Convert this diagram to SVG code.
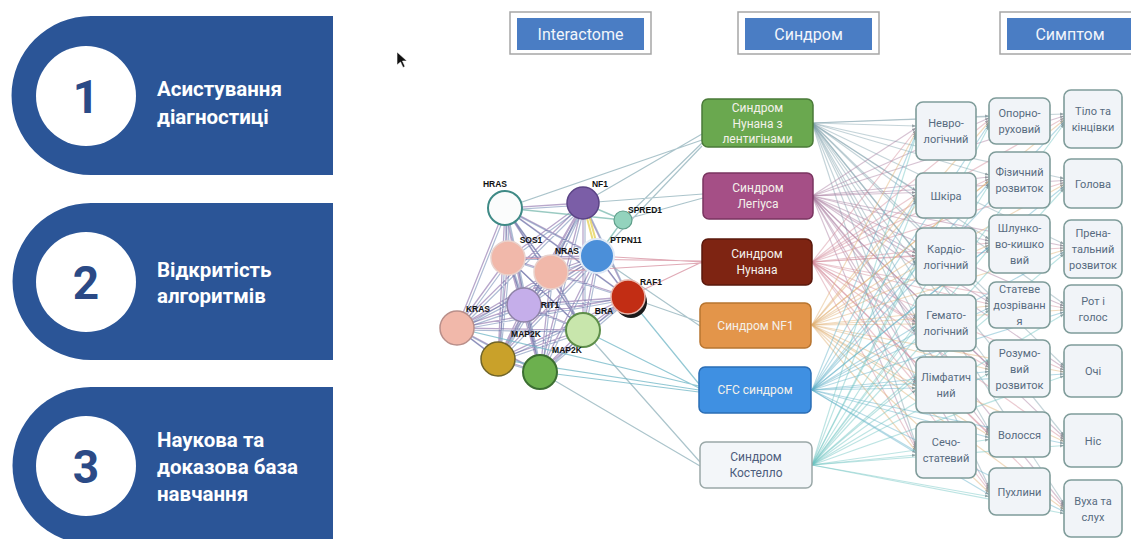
<svg xmlns="http://www.w3.org/2000/svg" xmlns:xlink="http://www.w3.org/1999/xlink" width="1131" height="539" viewBox="0 0 1131 539">
<style>
.panel{fill:#2b5597}
.pc{fill:#fff}
.pnum{font-family:Roboto,"Liberation Sans",sans-serif;font-weight:700;font-size:46px;fill:#2b4a86;text-anchor:middle}
.ptxt{font-family:Roboto,"Liberation Sans",sans-serif;font-weight:700;font-size:20.5px;fill:#fff}
.hout{fill:#fff;stroke:#a6a6a6;stroke-width:1.5}
.hin{fill:#4a7dc4}
.htxt{font-family:Roboto,"Liberation Sans",sans-serif;font-size:16px;fill:#f2f5fb;text-anchor:middle}
.syn{stroke-width:1.5}
.stxt{font-family:Roboto,"Liberation Sans",sans-serif;font-size:12px;fill:#f4f1ea;text-anchor:middle}
.sym{fill:#f1f4f8;stroke:#7f9c9a;stroke-width:1.6}
.ytxt{font-family:Roboto,"Liberation Sans",sans-serif;font-size:11px;fill:#576b80;text-anchor:middle}
.lbl{font-family:"Liberation Sans",Arial,sans-serif;font-weight:700;font-size:8.5px;fill:#111;text-anchor:middle}
.np{fill:none;stroke:#7d5ea0;stroke-opacity:.55;stroke-width:1.3}
.nb{fill:none;stroke:#4b6aa0;stroke-opacity:.45;stroke-width:1.2}
.ns{fill:none;stroke:#8fb0ba;stroke-opacity:.75;stroke-width:1.2}
.e{fill:none;stroke-width:1.2;stroke-opacity:.45;marker-end:url(#ah)}
.e1{stroke:#7f9faa}.e2{stroke:#a77a9e}.e3{stroke:#d28a98}.e4{stroke:#e0b070}.e5{stroke:#5fb0c8}.e6{stroke:#6cc4c0}
</style>
<defs>
<marker id="ah" viewBox="0 0 10 10" refX="10" refY="5" markerWidth="4" markerHeight="4" markerUnits="userSpaceOnUse" orient="auto"><path d="M0,1L10,5L0,9z" fill="#4d5f66" fill-opacity=".5"/></marker>
<path id="net" d="M505 208L583 203M505 208L597 256M505 208L508 258M505 208L551 272M505 208L628 297M505 208L524 305M505 208L583 330M505 208L457 328M505 208L498 359M505 208L540 372M583 203L508 258M583 203L551 272M583 203L628 297M583 203L524 305M583 203L583 330M583 203L457 328M583 203L498 359M583 203L540 372M597 256L508 258M597 256L551 272M597 256L628 297M597 256L524 305M597 256L583 330M597 256L457 328M597 256L498 359M597 256L540 372M508 258L551 272M508 258L628 297M508 258L524 305M508 258L583 330M508 258L457 328M508 258L498 359M508 258L540 372M551 272L628 297M551 272L524 305M551 272L583 330M551 272L457 328M551 272L498 359M551 272L540 372M628 297L524 305M628 297L583 330M628 297L457 328M628 297L498 359M628 297L540 372M524 305L583 330M524 305L457 328M524 305L498 359M524 305L540 372M583 330L457 328M583 330L498 359M583 330L540 372M457 328L498 359M457 328L540 372M498 359L540 372"/>
</defs>
<rect width="1131" height="539" fill="#fff"/>

<g id="panel1">
<path class="panel" d="M333 16H91A79.5 79.5 0 0 0 91 175H333Z"/>
<circle class="pc" cx="86" cy="96" r="50"/>
<text class="pnum" x="86" y="113">1</text>
<text class="ptxt" x="157" y="96">Асистування</text>
<text class="ptxt" x="157" y="124">діагностиці</text>
</g>
<g id="panel2">
<path class="panel" d="M333 203H91A78.5 78.5 0 0 0 91 360H333Z"/>
<circle class="pc" cx="86" cy="282" r="50"/>
<text class="pnum" x="86" y="299">2</text>
<text class="ptxt" x="157" y="277">Відкритість</text>
<text class="ptxt" x="157" y="303">алгоритмів</text>
</g>
<g id="panel3">
<path class="panel" d="M333 387H91A78.5 78.5 0 0 0 91 544H333Z"/>
<circle class="pc" cx="86" cy="466" r="50"/>
<text class="pnum" x="86" y="483">3</text>
<text class="ptxt" x="157" y="447">Наукова та</text>
<text class="ptxt" x="157" y="474">доказова база</text>
<text class="ptxt" x="157" y="501">навчання</text>
</g>

<g id="cursor"><path d="M397 52V65L400.5 62L403 67.5L405 66.5L402.5 61H407Z" fill="#111" stroke="#fff" stroke-width=".6"/></g>

<g id="header-interactome"><rect class="hout" x="510" y="12" width="141" height="42"/><rect class="hin" x="517" y="18" width="127" height="32"/><text class="htxt" x="580.5" y="40">Interactome</text></g>
<g id="header-syndrome"><rect class="hout" x="738" y="12" width="141" height="42"/><rect class="hin" x="745" y="18" width="127" height="32"/><text class="htxt" x="808.5" y="40">Синдром</text></g>
<g id="header-symptom"><rect class="hout" x="1000" y="12" width="141" height="42"/><rect class="hin" x="1007" y="18" width="127" height="32"/><text class="htxt" x="1070" y="40">Симптом</text></g>

<g id="connectors">
<use xlink:href="#net" class="np"/>
<use xlink:href="#net" class="nb" transform="translate(2,2)"/>
<path d="M583 203L597 256M586 204L600 256" fill="none" stroke="#e6d35a" stroke-width="2" stroke-opacity=".8"/>
<path d="M583 203L623 220M597 256L623 220M505 208L623 220" fill="none" stroke="#6fb3a8" stroke-width="1.4" stroke-opacity=".7"/>
<path class="ns" d="M505 208L702 140M583 203L702 134M623 220L702 143M597 256L702 146M623 220L703 198M583 203L703 194M628 297L700 322M597 256L700 326M583 330L700 462M540 372L700 466"/>
<path class="ns" style="stroke:#d58e9e" d="M597 256L702 262M628 297L702 262M551 272L702 263M508 258L702 261"/>
<path class="ns" style="stroke:#6fb5c5" d="M583 330L699 388M498 359L699 390M540 372L699 392M457 328L699 386M628 297L699 384"/>

<path class="e e1" d="M812 123L916 126"/><path class="e e1" d="M812 123L916 190.5"/><path class="e e1" d="M812 123L916 251.5"/><path class="e e1" d="M812 123L916 318"/><path class="e e1" d="M812 123L916 380"/><path class="e e1" d="M812 123L916 445"/>
<path class="e e1" d="M812 123L989 116"/><path class="e e1" d="M812 123L989 175"/><path class="e e1" d="M812 123L989 239"/><path class="e e1" d="M812 123L989 300"/><path class="e e1" d="M812 123L989 363.5"/><path class="e e1" d="M812 123L989 429.5"/><path class="e e1" d="M812 123L989 486.5"/>
<path class="e e1" d="M812 123L1064 114"/><path class="e e1" d="M812 123L1064 178.5"/><path class="e e1" d="M812 123L1064 244"/><path class="e e1" d="M812 123L1064 304"/><path class="e e1" d="M812 123L1064 366"/><path class="e e1" d="M812 123L1064 435.5"/><path class="e e1" d="M812 123L1064 503.5"/>

<path class="e e2" d="M812 196L916 128"/><path class="e e2" d="M812 196L916 192.5"/><path class="e e2" d="M812 196L916 253.5"/><path class="e e2" d="M812 196L916 320"/><path class="e e2" d="M812 196L916 382"/><path class="e e2" d="M812 196L916 447"/>
<path class="e e2" d="M812 196L989 118"/><path class="e e2" d="M812 196L989 177"/><path class="e e2" d="M812 196L989 241"/><path class="e e2" d="M812 196L989 302"/><path class="e e2" d="M812 196L989 365.5"/><path class="e e2" d="M812 196L989 431.5"/><path class="e e2" d="M812 196L989 488.5"/>
<path class="e e2" d="M812 196L1064 116"/><path class="e e2" d="M812 196L1064 180.5"/><path class="e e2" d="M812 196L1064 246"/><path class="e e2" d="M812 196L1064 306"/><path class="e e2" d="M812 196L1064 368"/><path class="e e2" d="M812 196L1064 437.5"/><path class="e e2" d="M812 196L1064 505.5"/>

<path class="e e3" d="M812 262L916 130"/><path class="e e3" d="M812 262L916 194.5"/><path class="e e3" d="M812 262L916 255.5"/><path class="e e3" d="M812 262L916 322"/><path class="e e3" d="M812 262L916 384"/><path class="e e3" d="M812 262L916 449"/>
<path class="e e3" d="M812 262L989 120"/><path class="e e3" d="M812 262L989 179"/><path class="e e3" d="M812 262L989 243"/><path class="e e3" d="M812 262L989 304"/><path class="e e3" d="M812 262L989 367.5"/><path class="e e3" d="M812 262L989 433.5"/><path class="e e3" d="M812 262L989 490.5"/>
<path class="e e3" d="M812 262L1064 118"/><path class="e e3" d="M812 262L1064 182.5"/><path class="e e3" d="M812 262L1064 248"/><path class="e e3" d="M812 262L1064 308"/><path class="e e3" d="M812 262L1064 370"/><path class="e e3" d="M812 262L1064 439.5"/><path class="e e3" d="M812 262L1064 507.5"/>

<path class="e e4" d="M812 325L916 132"/><path class="e e4" d="M812 325L916 196.5"/><path class="e e4" d="M812 325L916 257.5"/><path class="e e4" d="M812 325L916 324"/><path class="e e4" d="M812 325L916 386"/><path class="e e4" d="M812 325L916 451"/>
<path class="e e4" d="M812 325L989 122"/><path class="e e4" d="M812 325L989 181"/><path class="e e4" d="M812 325L989 245"/><path class="e e4" d="M812 325L989 306"/><path class="e e4" d="M812 325L989 369.5"/><path class="e e4" d="M812 325L989 435.5"/><path class="e e4" d="M812 325L989 492.5"/>
<path class="e e4" d="M812 325L1064 120"/><path class="e e4" d="M812 325L1064 184.5"/><path class="e e4" d="M812 325L1064 250"/><path class="e e4" d="M812 325L1064 310"/><path class="e e4" d="M812 325L1064 372"/><path class="e e4" d="M812 325L1064 441.5"/><path class="e e4" d="M812 325L1064 509.5"/>

<path class="e e5" d="M812 390L916 134"/><path class="e e5" d="M812 390L916 198.5"/><path class="e e5" d="M812 390L916 259.5"/><path class="e e5" d="M812 390L916 326"/><path class="e e5" d="M812 390L916 388"/><path class="e e5" d="M812 390L916 453"/>
<path class="e e5" d="M812 390L989 124"/><path class="e e5" d="M812 390L989 183"/><path class="e e5" d="M812 390L989 247"/><path class="e e5" d="M812 390L989 308"/><path class="e e5" d="M812 390L989 371.5"/><path class="e e5" d="M812 390L989 437.5"/><path class="e e5" d="M812 390L989 494.5"/>
<path class="e e5" d="M812 390L1064 122"/><path class="e e5" d="M812 390L1064 186.5"/><path class="e e5" d="M812 390L1064 252"/><path class="e e5" d="M812 390L1064 312"/><path class="e e5" d="M812 390L1064 374"/><path class="e e5" d="M812 390L1064 443.5"/><path class="e e5" d="M812 390L1064 511.5"/>

<path class="e e6" d="M812 465L916 136"/><path class="e e6" d="M812 465L916 200.5"/><path class="e e6" d="M812 465L916 261.5"/><path class="e e6" d="M812 465L916 328"/><path class="e e6" d="M812 465L916 390"/><path class="e e6" d="M812 465L916 455"/>
<path class="e e6" d="M812 465L989 126"/><path class="e e6" d="M812 465L989 185"/><path class="e e6" d="M812 465L989 249"/><path class="e e6" d="M812 465L989 310"/><path class="e e6" d="M812 465L989 373.5"/><path class="e e6" d="M812 465L989 439.5"/><path class="e e6" d="M812 465L989 496.5"/>
<path class="e e6" d="M812 465L1064 124"/><path class="e e6" d="M812 465L1064 188.5"/><path class="e e6" d="M812 465L1064 254"/><path class="e e6" d="M812 465L1064 314"/><path class="e e6" d="M812 465L1064 376"/><path class="e e6" d="M812 465L1064 445.5"/><path class="e e6" d="M812 465L1064 513.5"/>
</g>

<g id="gene-HRAS"><circle cx="505" cy="208" r="17" fill="#fbfcfc" stroke="#3f8a86" stroke-width="2"/><text class="lbl" x="495" y="187">HRAS</text></g>
<g id="gene-NF1"><circle cx="583" cy="203" r="16" fill="#7b5ea7" stroke="#5a4385" stroke-width="1.5"/><text class="lbl" x="600" y="187">NF1</text></g>
<g id="gene-SPRED1"><circle cx="623" cy="220" r="9" fill="#93d3bd" stroke="#5e9e8a" stroke-width="1.2"/><text class="lbl" x="645" y="213">SPRED1</text></g>
<g id="gene-PTPN11"><circle cx="597" cy="256" r="17" fill="#4b8fd9" stroke="#dfe9f6" stroke-width="2"/><text class="lbl" x="626" y="243">PTPN11</text></g>
<g id="gene-SOS1"><circle cx="508" cy="258" r="17" fill="#f1b8aa" stroke="#e9d2cc" stroke-width="1.5"/><text class="lbl" x="531" y="243">SOS1</text></g>
<g id="gene-NRAS"><circle cx="551" cy="272" r="17" fill="#f1b8aa" stroke="#e9d2cc" stroke-width="1.5"/><text class="lbl" x="567" y="254">NRAS</text></g>
<g id="gene-RAF1"><circle cx="631" cy="302" r="16" fill="#1a1a1a"/><circle cx="628" cy="297" r="17" fill="#c22d14" stroke="#e9b7ad" stroke-width="1.5"/><text class="lbl" x="651" y="285">RAF1</text></g>
<g id="gene-RIT1"><circle cx="524" cy="305" r="17" fill="#c5aeea" stroke="#8f84a8" stroke-width="1.5"/><text class="lbl" x="550" y="308">RIT1</text></g>
<g id="gene-BRAF"><circle cx="583" cy="330" r="17" fill="#c8e6ac" stroke="#5e8e4a" stroke-width="2"/><text class="lbl" x="604" y="314">BRA</text></g>
<g id="gene-KRAS"><circle cx="457" cy="328" r="17" fill="#f1b8aa" stroke="#b98f8a" stroke-width="1.5"/><text class="lbl" x="478" y="312">KRAS</text></g>
<g id="gene-MAP2K1"><circle cx="498" cy="359" r="17" fill="#c9a12a" stroke="#6f6428" stroke-width="1.5"/><text class="lbl" x="526" y="337">MAP2K</text></g>
<g id="gene-MAP2K2"><circle cx="540" cy="372" r="17" fill="#6cb04e" stroke="#3c6f32" stroke-width="2"/><text class="lbl" x="567" y="353">MAP2K</text></g>

<g id="syn-noonan-lentigines"><rect class="syn" x="702" y="99" width="111" height="48" rx="6" fill="#6aa84f" stroke="#4a7a38"/><text class="stxt" x="757.5" y="112">Синдром</text><text class="stxt" x="757.5" y="127.5">Нунана з</text><text class="stxt" x="757.5" y="143">лентигінами</text></g>
<g id="syn-legius"><rect class="syn" x="703" y="173" width="110" height="46" rx="6" fill="#a54f86" stroke="#7a3560"/><text class="stxt" x="758" y="192">Синдром</text><text class="stxt" x="758" y="208">Легіуса</text></g>
<g id="syn-noonan"><rect class="syn" x="702" y="239" width="110" height="46" rx="6" fill="#7e2412" stroke="#5a180c"/><text class="stxt" x="757" y="258">Синдром</text><text class="stxt" x="757" y="274">Нунана</text></g>
<g id="syn-nf1"><rect class="syn" x="700" y="303" width="111" height="45" rx="6" fill="#e3954a" stroke="#b87530"/><text class="stxt" x="755.5" y="329.5">Синдром NF1</text></g>
<g id="syn-cfc"><rect class="syn" x="699" y="367" width="112" height="46" rx="6" fill="#3f90e2" stroke="#2a6db5"/><text class="stxt" x="755" y="394">CFC синдром</text></g>
<g id="syn-costello"><rect class="syn" x="700" y="442" width="112" height="46" rx="6" fill="#f3f6f9" stroke="#9aa8a8"/><text class="stxt" x="756" y="461" style="fill:#4d5d7c">Синдром</text><text class="stxt" x="756" y="477" style="fill:#4d5d7c">Костелло</text></g>

<g id="sym-neuro"><rect class="sym" x="916" y="102" width="60" height="58" rx="7"/><text class="ytxt" x="946" y="127">Невро-</text><text class="ytxt" x="946" y="143">логічний</text></g>
<g id="sym-skin"><rect class="sym" x="916" y="173" width="60" height="45" rx="7"/><text class="ytxt" x="946" y="199.5">Шкіра</text></g>
<g id="sym-cardio"><rect class="sym" x="916" y="228" width="60" height="57" rx="7"/><text class="ytxt" x="946" y="252.5">Кардіо-</text><text class="ytxt" x="946" y="268.5">логічний</text></g>
<g id="sym-hemato"><rect class="sym" x="916" y="295" width="60" height="56" rx="7"/><text class="ytxt" x="946" y="319">Гемато-</text><text class="ytxt" x="946" y="335">логічний</text></g>
<g id="sym-lymph"><rect class="sym" x="916" y="357" width="60" height="56" rx="7"/><text class="ytxt" x="946" y="381">Лімфатич</text><text class="ytxt" x="946" y="397">ний</text></g>
<g id="sym-urogen"><rect class="sym" x="916" y="422" width="60" height="56" rx="7"/><text class="ytxt" x="946" y="446">Сечо-</text><text class="ytxt" x="946" y="462">статевий</text></g>

<g id="sym-musculo"><rect class="sym" x="989" y="98" width="61" height="46" rx="7"/><text class="ytxt" x="1019.5" y="117">Опорно-</text><text class="ytxt" x="1019.5" y="133">руховий</text></g>
<g id="sym-physdev"><rect class="sym" x="989" y="152" width="61" height="56" rx="7"/><text class="ytxt" x="1019.5" y="176">Фізичний</text><text class="ytxt" x="1019.5" y="192">розвиток</text></g>
<g id="sym-gi"><rect class="sym" x="989" y="215" width="61" height="58" rx="7"/><text class="ytxt" x="1019.5" y="232">Шлунко-</text><text class="ytxt" x="1019.5" y="248">во-кишко</text><text class="ytxt" x="1019.5" y="264">вий</text></g>
<g id="sym-puberty"><rect class="sym" x="989" y="282" width="61" height="46" rx="7"/><text class="ytxt" x="1019.5" y="293">Статеве</text><text class="ytxt" x="1019.5" y="309">дозріванн</text><text class="ytxt" x="1019.5" y="325">я</text></g>
<g id="sym-mental"><rect class="sym" x="989" y="340" width="61" height="57" rx="7"/><text class="ytxt" x="1019.5" y="356.5">Розумо-</text><text class="ytxt" x="1019.5" y="372.5">вий</text><text class="ytxt" x="1019.5" y="388.5">розвиток</text></g>
<g id="sym-hair"><rect class="sym" x="989" y="412" width="61" height="45" rx="7"/><text class="ytxt" x="1019.5" y="438.5">Волосся</text></g>
<g id="sym-tumors"><rect class="sym" x="989" y="468" width="61" height="47" rx="7"/><text class="ytxt" x="1019.5" y="495.5">Пухлини</text></g>

<g id="sym-body"><rect class="sym" x="1064" y="90" width="58" height="58" rx="7"/><text class="ytxt" x="1093" y="115">Тіло та</text><text class="ytxt" x="1093" y="131">кінцівки</text></g>
<g id="sym-head"><rect class="sym" x="1064" y="159" width="58" height="49" rx="7"/><text class="ytxt" x="1093" y="187.5">Голова</text></g>
<g id="sym-prenatal"><rect class="sym" x="1064" y="220" width="58" height="58" rx="7"/><text class="ytxt" x="1093" y="237">Прена-</text><text class="ytxt" x="1093" y="253">тальний</text><text class="ytxt" x="1093" y="269">розвиток</text></g>
<g id="sym-mouth"><rect class="sym" x="1064" y="285" width="58" height="48" rx="7"/><text class="ytxt" x="1093" y="305">Рот і</text><text class="ytxt" x="1093" y="321">голос</text></g>
<g id="sym-eyes"><rect class="sym" x="1064" y="345" width="58" height="52" rx="7"/><text class="ytxt" x="1093" y="375">Очі</text></g>
<g id="sym-nose"><rect class="sym" x="1064" y="414" width="58" height="53" rx="7"/><text class="ytxt" x="1093" y="444.5">Ніс</text></g>
<g id="sym-ears"><rect class="sym" x="1064" y="480" width="58" height="57" rx="7"/><text class="ytxt" x="1093" y="504.5">Вуха та</text><text class="ytxt" x="1093" y="520.5">слух</text></g>
</svg>
